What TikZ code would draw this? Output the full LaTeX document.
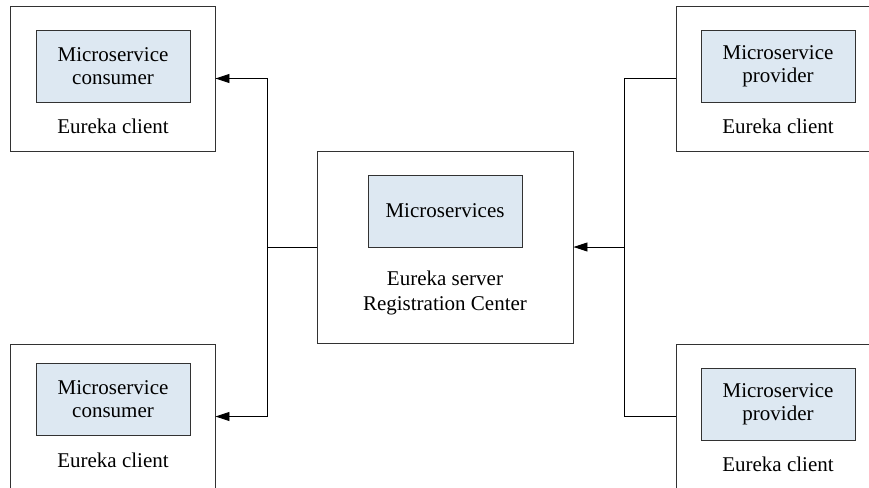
\documentclass[tikz,border=0pt]{standalone}
\usepackage{fontspec}
\setmainfont{Liberation Serif}
\usetikzlibrary{arrows.meta}
\definecolor{paleblue}{RGB}{221,232,242}
\definecolor{edgegray}{RGB}{50,50,50}

\begin{document}
\begin{tikzpicture}[x=1pt,y=-1pt,line width=0.9pt]
\tikzstyle{clientbox} = [draw = edgegray,minimum width = 205pt,minimum height = 145pt,inner sep=0pt]
\tikzstyle{servicebox} = [draw = edgegray,fill = paleblue,minimum width = 154pt,minimum height = 72pt,inner sep=0pt,align=center,font=\fontsize{21}{23}\selectfont]
\tikzstyle{caption} = [inner sep=0pt,align=center,font=\fontsize{21}{25}\selectfont]
\tikzstyle{tip} = [-{Triangle[length=14pt,width=9pt]}]

\useasboundingbox (0,0) rectangle (869,487);

% registration center
\node[clientbox, minimum width = 256pt, minimum height = 192pt] (srv) at (445,247) {};
\node[servicebox] (srvms) at (445,211) {Microservices};
\node[caption] (srvlbl) at (445,293) {Eureka server\\Registration Center};

% consumers
\node[clientbox] (cons1) at (112.5,78.5) {};
\node[servicebox] (cons1ms) at (113,66) {Microservice\\consumer};
\node[caption] (cons1lbl) at (113,126) {Eureka client};

\node[clientbox] (cons2) at (112.5,416.5) {};
\node[servicebox] (cons2ms) at (113,399.5) {Microservice\\consumer};
\node[caption] (cons2lbl) at (113,460) {Eureka client};

% providers
\node[clientbox] (prov1) at (778.5,78.5) {};
\node[servicebox] (prov1ms) at (778,66) {Microservice\\provider};
\node[caption] (prov1lbl) at (778,126) {Eureka client};

\node[clientbox] (prov2) at (778.5,416.5) {};
\node[servicebox] (prov2ms) at (778,404.5) {Microservice\\provider};
\node[caption] (prov2lbl) at (778,464) {Eureka client};

\coordinate (lbus) at (267,247);
\coordinate (rbus) at (624,247);

\draw (srv.west) -- (lbus);
\draw[tip] (lbus) |- (cons1.east);
\draw[tip] (lbus) |- (cons2.east);

\draw (prov1.west) -| (rbus);
\draw (prov2.west) -| (rbus);
\draw[tip] (rbus) -- (srv.east);

\end{tikzpicture}
\end{document}
